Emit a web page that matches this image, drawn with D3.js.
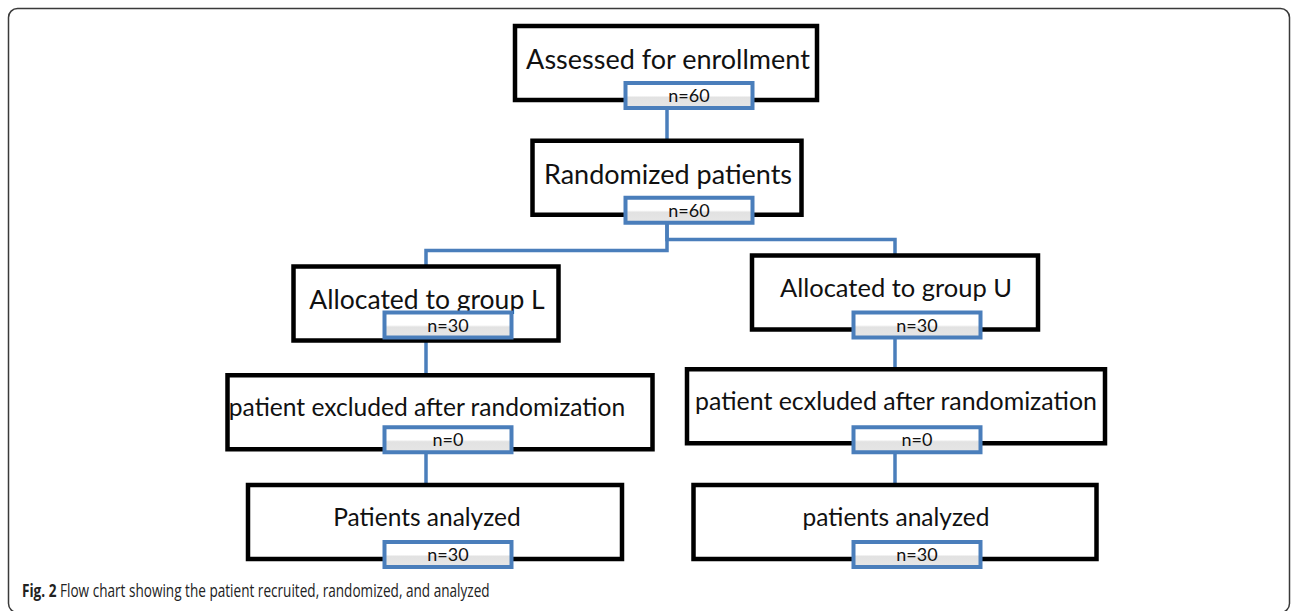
<!DOCTYPE html>
<html>
<head>
<meta charset="utf-8">
<script src="https://cdn.jsdelivr.net/npm/d3@7"></script>
<style>
  body { margin: 0; background: #fff; }
  svg { display: block; }
</style>
</head>
<body>
<div id="flow-container"></div>
<script>
const width = 1292;
const height = 611;

/* ----------------------- data ----------------------- */
const stageLabels = [
  "Assessed for enrollment",
  "Randomized patients",
  "Allocated to group L",
  "Allocated to group U",
  "patient excluded after randomization",
  "patient ecxluded after randomization",
  "Patients analyzed",
  "patients analyzed"
];
const stageCounts = [60, 60, 30, 30, 0, 0, 30, 30];
const stageParents = [null, 0, 1, 1, 2, 3, 4, 5];
const captionBold = "Fig. 2";
const captionText = " Flow chart showing the patient recruited, randomized, and analyzed";

/* ----------------------- layout ----------------------- */
// row index + column for each stage, box width, small nudges, font size
const nodeRow = [0, 1, 2, 2, 3, 3, 4, 4];
const nodeCol = ["mid", "mid", "left", "right", "left", "right", "left", "right"];
const nodeWidth = [302, 269, 265, 286, 425, 418, 374, 403];
const nodeDx = [-1, 0, 0, 0, 14, 1, 9, 0];
const nodeDy = [0, 0, 11, 0, 5, -1, 0, 0];
const nodeFont = [27, 27, 26.5, 25.5, 24.6, 24.9, 24.5, 24.5];

const boxH = 74;
const countW = 127;
const countH = 25;
const blue = "#4a7ebb";

const svg = d3
  .select("#flow-container")
  .append("svg")
    .attr("width", width)
    .attr("height", height)

const defs = svg.append("defs");
const grad = defs.append("linearGradient")
    .attr("id", "countfill")
    .attr("x1", 0).attr("y1", 0)
    .attr("x2", 0).attr("y2", 1)
grad.append("stop").attr("offset", "0%").attr("stop-color", "#ffffff")
grad.append("stop").attr("offset", "50%").attr("stop-color", "#ffffff")
grad.append("stop").attr("offset", "58%").attr("stop-color", "#e2e2e2")
grad.append("stop").attr("offset", "100%").attr("stop-color", "#e6e6e6")

// outer frame
svg.append("rect")
    .attr("x", 8.5)
    .attr("y", 8.5)
    .attr("width", 1281)
    .attr("height", 604)
    .attr("rx", 9)
    .attr("fill", "none")
    .attr("stroke", "#3a3a3a")
    .attr("stroke-width", 1.5)

/* ----------------------- scales ----------------------- */
const colX = d3.scaleOrdinal()
  .domain(["left", "mid", "right"])
  .range([426, 667, 895]);

const rowY = d3.scaleLinear()
  .domain([0, 4])
  .range([26, 485]);

const nodes = stageLabels.map((label, i) => ({
  label: label,
  count: stageCounts[i],
  parent: stageParents[i],
  lineX: colX(nodeCol[i]),
  cx: colX(nodeCol[i]) + nodeDx[i],
  top: rowY(nodeRow[i]) + nodeDy[i],
  rowTop: rowY(nodeRow[i]),
  w: nodeWidth[i],
  font: nodeFont[i]
}));

/* ----------------------- connectors ----------------------- */
const line = d3.line();

function connectorPoints(d) {
  const p = nodes[d.parent];
  const startY = p.rowTop + 57 + countH;
  if (p.lineX === d.lineX) {
    return [[d.lineX, startY], [d.lineX, d.top]];
  }
  const elbowY = d.top - 16;
  return [[p.lineX, startY], [p.lineX, elbowY], [d.lineX, elbowY], [d.lineX, d.top]];
}

svg.append("g")
    .attr("class", "links")
  .selectAll("path")
  .data(nodes.filter(d => d.parent !== null))
  .join("path")
    .attr("d", d => line(connectorPoints(d)))
    .attr("fill", "none")
    .attr("stroke", blue)
    .attr("stroke-width", 3.5)

/* ----------------------- boxes ----------------------- */
const stage = svg.append("g")
    .attr("class", "stages")
  .selectAll("g")
  .data(nodes)
  .join("g")

stage.append("rect")
    .attr("x", d => d.cx - d.w / 2)
    .attr("y", d => d.top)
    .attr("width", d => d.w)
    .attr("height", boxH)
    .attr("fill", "#fff")
    .attr("stroke", "#000")
    .attr("stroke-width", 4.5)

stage.append("text")
    .attr("x", d => d.lineX + 1)
    .attr("y", d => d.top + 16 + d.font)
    .attr("text-anchor", "middle")
    .attr("font-family", "Lato, 'Noto Sans', sans-serif")
    .attr("font-size", d => d.font)
    .attr("fill", "#111")
    .text(d => d.label)

// count boxes sit across the bottom edge
stage.append("rect")
    .attr("x", d => d.lineX + 22 - countW / 2)
    .attr("y", d => d.rowTop + 57)
    .attr("width", countW)
    .attr("height", countH)
    .attr("fill", "url(#countfill)")
    .attr("stroke", blue)
    .attr("stroke-width", 4)

stage.append("text")
    .attr("x", d => d.lineX + 22)
    .attr("y", d => d.rowTop + 57 + 19)
    .attr("text-anchor", "middle")
    .attr("font-family", "Lato, 'Noto Sans', sans-serif")
    .attr("font-size", 18)
    .attr("fill", "#111")
    .text(d => "n=" + d.count)

/* ----------------------- caption ----------------------- */
// caption font in the figure is a narrow one, so squeeze Open Sans horizontally
const captionG = svg.append("g")

const caption = captionG.append("text")
    .attr("x", 0)
    .attr("y", 0)
    .attr("font-family", "'Open Sans', sans-serif")
    .attr("font-size", 17.5)
    .attr("fill", "#222")

caption.append("tspan")
    .attr("font-weight", "bold")
    .text(captionBold)
caption.append("tspan")
    .text(captionText)

const capW = caption.node().getComputedTextLength();
captionG.attr("transform", `translate(22, 597) scale(${468 / capW}, 1)`)
</script>
</body>
</html>
